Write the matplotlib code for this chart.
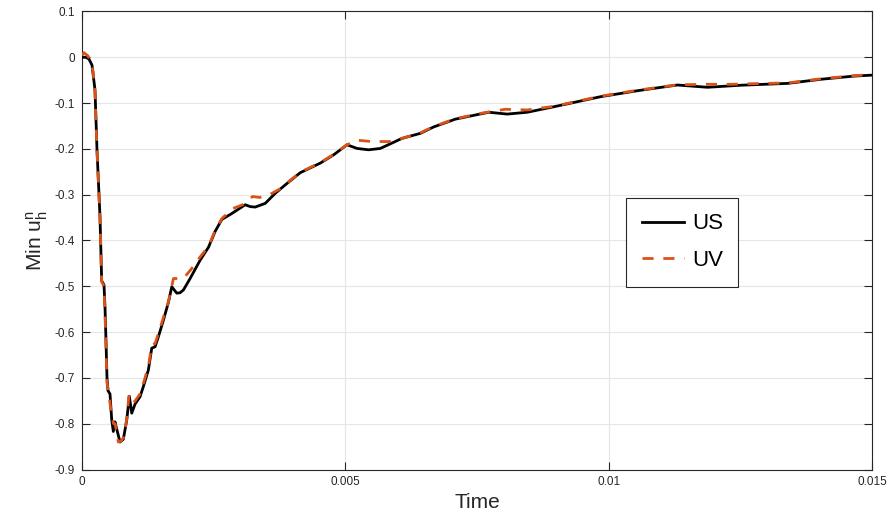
import matplotlib
matplotlib.use("Agg")
import matplotlib.pyplot as plt
import numpy as np

plt.rcParams['font.family'] = ['Liberation Sans', 'DejaVu Sans']
plt.rcParams['mathtext.fontset'] = 'custom'
plt.rcParams['mathtext.rm'] = 'Liberation Sans'
plt.rcParams['mathtext.it'] = 'Liberation Sans'
plt.rcParams['axes.unicode_minus'] = False

# ---- data (time in units of 1e-3) ----
us_t = [0.000, 0.076, 0.133, 0.190, 0.247, 0.285, 0.342, 0.374, 0.418, 0.437,
        0.456, 0.475, 0.494, 0.532, 0.565, 0.595, 0.627, 0.656, 0.722, 0.785,
        0.850, 0.899, 0.945, 1.008, 1.103, 1.165, 1.260, 1.325, 1.388, 1.451,
        1.546, 1.641, 1.705, 1.800, 1.863, 1.926, 2.053, 2.243, 2.401, 2.529,
        2.656, 2.846, 3.099, 3.194, 3.289, 3.479, 3.669, 3.897, 4.144, 4.525,
        4.778, 5.032, 5.222, 5.443, 5.665, 6.078, 6.426, 6.679, 7.091, 7.724,
        8.074, 8.454, 8.960, 9.848, 10.546, 11.306, 11.876, 12.510, 13.397,
        14.030, 14.663, 15.000]
us_y = [0.000, 0.000, -0.004, -0.017, -0.071, -0.202, -0.348, -0.488, -0.497, -0.545,
        -0.620, -0.700, -0.728, -0.735, -0.792, -0.817, -0.796, -0.810, -0.840, -0.834,
        -0.792, -0.740, -0.777, -0.757, -0.741, -0.719, -0.683, -0.635, -0.632, -0.610,
        -0.574, -0.535, -0.501, -0.515, -0.514, -0.508, -0.483, -0.443, -0.415, -0.380,
        -0.354, -0.341, -0.322, -0.326, -0.327, -0.319, -0.297, -0.275, -0.252, -0.231,
        -0.213, -0.191, -0.199, -0.202, -0.199, -0.177, -0.166, -0.152, -0.135, -0.120,
        -0.124, -0.120, -0.108, -0.086, -0.073, -0.0605, -0.0655, -0.061, -0.057,
        -0.048, -0.041, -0.039]

uv_t = [0.000, 0.038, 0.114, 0.152, 0.209, 0.247, 0.285, 0.342, 0.374, 0.418,
        0.437, 0.475, 0.510, 0.560, 0.600, 0.630, 0.660, 0.690, 0.740, 0.790,
        0.850, 0.890, 0.960, 1.010, 1.103, 1.165, 1.260, 1.325, 1.388, 1.451,
        1.546, 1.641, 1.736, 1.926, 2.085, 2.243, 2.401, 2.529, 2.656, 2.870,
        3.050, 3.240, 3.370, 3.560, 3.750, 3.897, 4.144, 4.525, 4.778, 5.032,
        5.222, 5.510, 5.830, 6.078, 6.426, 6.679, 7.091, 7.590, 8.040, 8.454,
        8.960, 9.848, 10.546, 11.306, 11.876, 12.320, 12.760, 13.397, 14.030,
        14.663, 15.000]
uv_y = [0.004, 0.010, 0.003, -0.006, -0.030, -0.075, -0.205, -0.350, -0.490, -0.500,
        -0.560, -0.710, -0.735, -0.780, -0.800, -0.800, -0.820, -0.840, -0.838, -0.830,
        -0.790, -0.740, -0.757, -0.750, -0.735, -0.712, -0.676, -0.628, -0.625, -0.603,
        -0.568, -0.534, -0.483, -0.483, -0.461, -0.436, -0.413, -0.378, -0.352, -0.330,
        -0.322, -0.304, -0.306, -0.300, -0.288, -0.274, -0.251, -0.230, -0.212, -0.191,
        -0.181, -0.184, -0.184, -0.177, -0.165, -0.151, -0.134, -0.122, -0.1135, -0.115,
        -0.107, -0.085, -0.072, -0.0600, -0.059, -0.059, -0.0576, -0.056, -0.047,
        -0.040, -0.038]

xticks = [0, 0.005, 0.01, 0.015]
xticklabels = ['0', '0.005', '0.01', '0.015']
yticks = [-0.9, -0.8, -0.7, -0.6, -0.5, -0.4, -0.3, -0.2, -0.1, 0, 0.1]
yticklabels = ['-0.9', '-0.8', '-0.7', '-0.6', '-0.5', '-0.4', '-0.3', '-0.2', '-0.1', '0', '0.1']

fig = plt.figure(figsize=(8.95, 5.27), dpi=100)
ax = fig.add_axes([0.0916, 0.1091, 0.8827, 0.8691])

ax.plot(np.array(us_t) * 1e-3, us_y, color='black', lw=2.0, label='US', zorder=3,
        solid_joinstyle='round')
ax.plot(np.array(uv_t) * 1e-3, uv_y, color='#D95319', lw=2.0, ls=(0, (4, 3.5)),
        label='UV', zorder=4)

ax.set_xlim(0, 0.015)
ax.set_ylim(-0.9, 0.1)
ax.set_xticks(xticks)
ax.set_xticklabels(xticklabels)
ax.set_yticks(yticks)
ax.set_yticklabels(yticklabels)

ax.grid(True, color='#e6e6e6', lw=0.8)
ax.set_axisbelow(True)
for s in ax.spines.values():
    s.set_color('#262626')
    s.set_linewidth(0.8)
ax.tick_params(direction='in', top=True, right=True, length=6, width=0.8,
               colors='#262626', labelsize=8.5, pad=5)

ax.set_xlabel('Time', fontsize=15, color='#262626', labelpad=3)
ax.set_ylabel(r'Min u$_{\rm h}^{\rm n}$', fontsize=15, color='#262626', labelpad=3)

leg = ax.legend(loc='upper left', bbox_to_anchor=(0.689, 0.593), fontsize=16,
                handlelength=1.9, handletextpad=0.35, borderpad=0.7,
                labelspacing=0.7, fancybox=False, framealpha=1, borderaxespad=0)
leg.get_frame().set_edgecolor('#262626')
leg.get_frame().set_linewidth(0.8)

fig.savefig('out.png', dpi=100)
